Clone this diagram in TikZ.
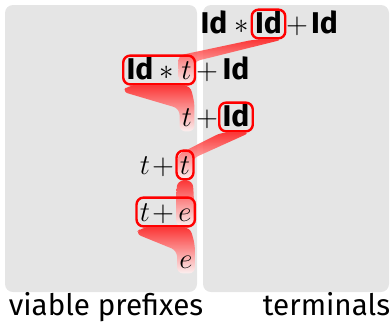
\documentclass[tikz,border=0pt]{standalone}
\usepackage{fontspec}
\setmainfont{Fira Sans}
\usetikzlibrary{fit,backgrounds}

\tikzset{
  panel/.style={fill=black!10, rounded corners=4pt},
  tok/.style={anchor=base, inner xsep=1pt, inner ysep=1.5pt, text height=10pt, text depth=1pt,
    font=\fontsize{15}{17}\selectfont},
  hl/.style={draw=red, line width=1.2pt, rounded corners=3.5pt, inner xsep=0.5pt, inner ysep=0pt},
  flow/.style={top color=red!90, middle color=red!60, bottom color=red!5, fill opacity=0.85,
    rounded corners=3pt},
  lbl/.style={anchor=base, font=\fontsize{14.8}{17}\selectfont}
}
\newcommand{\Id}{\textbf{Id}}

\begin{document}
\begin{tikzpicture}[x=0.5pt,y=-0.5pt]
\useasboundingbox (0,0) rectangle (391,323);

% row 1
\node[tok] (a1) at (214,33) {\Id};
\node[tok] (a2) at (242,33) {$\ast$};
\node[tok] (a3) at (268.5,33) {\Id};
\node[tok] (a4) at (297,33) {$+$};
\node[tok] (a5) at (324.5,33) {\Id};
% row 2
\node[tok] (b1) at (140,79) {\Id};
\node[tok] (b2) at (167,79) {$\ast$};
\node[tok] (b3) at (186.5,79) {$t$};
\node[tok] (b4) at (207,79) {$+$};
\node[tok] (b5) at (236,79) {\Id};
% row 3
\node[tok] (c1) at (187,126) {$t$};
\node[tok] (c2) at (207,126) {$+$};
\node[tok] (c3) at (236,126) {\Id};
% row 4
\node[tok] (d1) at (145,174) {$t$};
\node[tok] (d2) at (163,174) {$+$};
\node[tok] (d3) at (185,174) {$t$};
% row 5
\node[tok] (e1) at (145,221) {$t$};
\node[tok] (e2) at (163,221) {$+$};
\node[tok] (e3) at (185,221) {$e$};
% row 6
\node[tok] (f1) at (186,268) {$e$};

% highlighted handles
\node[hl, fit=(a3)] (h1) {};
\node[hl, fit=(b1)(b3)] (h2) {};
\node[hl, fit=(c3)] (h3) {};
\node[hl, fit=(d3)] (h4) {};
\node[hl, fit=(e1)(e3)] (h5) {};

\node[lbl] (vp) at (106,315) {viable prefixes};
\node[lbl] (tm) at (326.5,315) {terminals};

\begin{scope}[on background layer]
  \fill[panel] (5,5) rectangle (197,292);
  \fill[panel] (203,5) rectangle (389,292);
  % reductions
  \shade[flow] ([xshift=1.5pt]h1.south west) -- ([xshift=-0.5pt]b3.north west) -- (b3.south west)
    -- (b3.south east) -- ([yshift=-3pt]b3.north east) -- ([xshift=-2pt]h1.south east) -- cycle;
  \shade[flow] ([xshift=3pt]h2.south west) -- ([yshift=-3pt]h2.south west) -- ([yshift=-3pt]c1.north west)
    -- (c1.south west) -- (c1.south east) -- (c1.north east) -- ([xshift=-3pt]h2.south east) -- cycle;
  \shade[flow] ([xshift=1.5pt]h3.south west) -- ([yshift=-2pt]d3.north west) -- (d3.south west)
    -- (d3.south east) -- ([yshift=-4pt]d3.north east) -- ([xshift=-2pt]h3.south east) -- cycle;
  \shade[flow] ([xshift=1pt]h4.south west) -- (e3.north west) -- (e3.south west)
    -- (e3.south east) -- (e3.north east) -- ([xshift=-1pt]h4.south east) -- cycle;
  \shade[flow] ([xshift=3pt]h5.south west) -- ([yshift=-3pt]h5.south west) -- ([yshift=-3pt]f1.north west)
    -- (f1.south west) -- (f1.south east) -- (f1.north east) -- ([xshift=-3pt]h5.south east) -- cycle;
\end{scope}
\end{tikzpicture}
\end{document}
